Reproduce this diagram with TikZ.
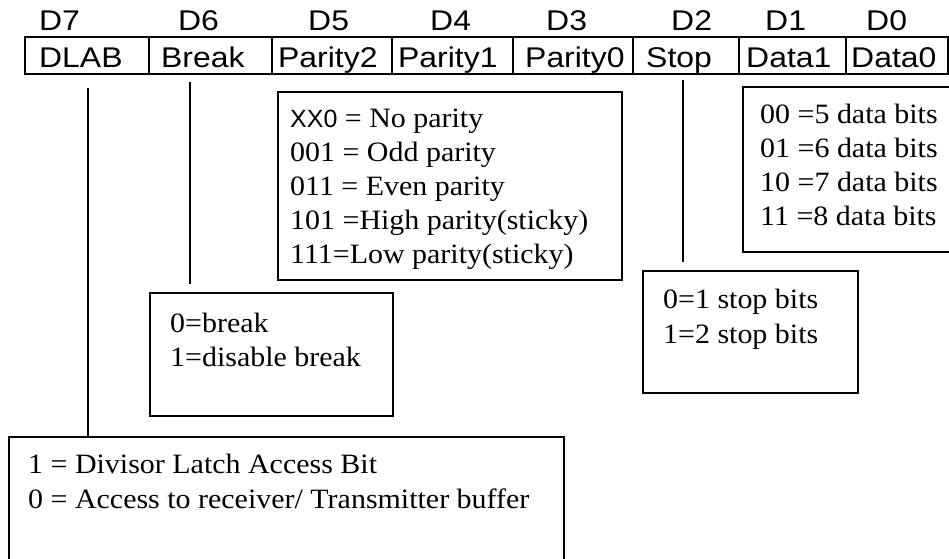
\documentclass[tikz,border=0pt]{standalone}
\usepackage{fontspec}
\setmainfont{Liberation Serif}[FakeStretch=1.07]
\setsansfont{Liberation Sans}[FakeStretch=1.12]
\newfontfamily\xxfont{Liberation Sans}
\begin{document}
\begin{tikzpicture}[x=1pt,y=-1pt,
  box/.style={draw, line width=1.8pt, rectangle, inner sep=0pt, outer sep=0pt, anchor=north west},
  cell/.style={box, minimum height=37pt},
  hdr/.style={font=\sffamily\fontsize{28.5}{34}\selectfont, anchor=base west, inner sep=0pt},
  txt/.style={font=\rmfamily\fontsize{28}{34}\selectfont, anchor=base west, inner sep=0pt},
  wire/.style={line width=1.6pt}]
\useasboundingbox (0,0) rectangle (949,558);

% header cells
\node[cell, minimum width=124pt] (c7) at (25,37) {};
\node[cell, minimum width=123pt] (c6) at (149,37) {};
\node[cell, minimum width=120pt] (c5) at (272,37) {};
\node[cell, minimum width=121pt] (c4) at (392,37) {};
\node[cell, minimum width=120pt] (c3) at (513,37) {};
\node[cell, minimum width=106pt] (c2) at (633,37) {};
\node[cell, minimum width=107pt] (c1) at (739,37) {};
\node[cell, minimum width=102pt] (c0) at (846,37) {};

% bit numbers
\node[hdr] (d7) at (39,30) {D7};
\node[hdr] (d6) at (178,30) {D6};
\node[hdr] (d5) at (308,30) {D5};
\node[hdr] (d4) at (430,30) {D4};
\node[hdr] (d3) at (546,30) {D3};
\node[hdr] (d2) at (671,30) {D2};
\node[hdr] (d1) at (765,30) {D1};
\node[hdr] (d0) at (866,30) {D0};

% cell names
\node[hdr] (n7) at (39,67) {DLAB};
\node[hdr] (n6) at (161,67) {Break};
\node[hdr] (n5) at (278,67) {Parity2};
\node[hdr] (n4) at (398,67) {Parity1};
\node[hdr] (n3) at (525,67) {Parity0};
\node[hdr] (n2) at (646,67) {Stop};
\node[hdr] (n1) at (746,67) {Data1};
\node[hdr] (n0) at (851,67) {Data0};

% description boxes
\node[box, minimum width=344pt, minimum height=188pt] (parbox) at (278,92) {};
\node[box, minimum width=220pt, minimum height=165pt] (databox) at (743,87) {};
\node[box, minimum width=215pt, minimum height=122pt] (stopbox) at (643,271) {};
\node[box, minimum width=243pt, minimum height=123pt] (breakbox) at (150,293) {};
\node[box, minimum width=555pt, minimum height=140pt] (latchbox) at (9,437) {};

% parity texts
\node[txt] (p1) at (290,127) {{\xxfont\fontsize{25}{30}\selectfont XX0} = No parity};
\node[txt] (p2) at (290,161) {001 = Odd parity};
\node[txt] (p3) at (290,195) {011 = Even parity};
\node[txt] (p4) at (290,229) {101 =High parity(sticky)};
\node[txt] (p5) at (290,263) {111=Low parity(sticky)};

% data texts
\node[txt] (q1) at (760,123) {00 =5 data bits};
\node[txt] (q2) at (760,157) {01 =6 data bits};
\node[txt] (q3) at (760,191) {10 =7 data bits};
\node[txt] (q4) at (760,225) {11 =8 data bits};

% stop texts
\node[txt] (s1) at (663,308) {0=1 stop bits};
\node[txt] (s2) at (663,343) {1=2 stop bits};

% break texts
\node[txt] (b1) at (170,332) {0=break};
\node[txt] (b2) at (170,366) {1=disable break};

% latch texts
\node[txt] (l1) at (28,473) {1 = Divisor Latch Access Bit};
\node[txt] (l2) at (28,508) {0 = Access to receiver/ Transmitter buffer};

% connectors
\coordinate (dlabtop) at (88,88);
\coordinate (breaktop) at (190,82);
\coordinate (breakend) at (190,284);
\coordinate (stoptop) at (683,80);
\coordinate (stopend) at (683,262);
\draw[wire] (dlabtop) -- (dlabtop |- latchbox.north);
\draw[wire] (breaktop) -- (breakend);
\draw[wire] (stoptop) -- (stopend);
\end{tikzpicture}
\end{document}
